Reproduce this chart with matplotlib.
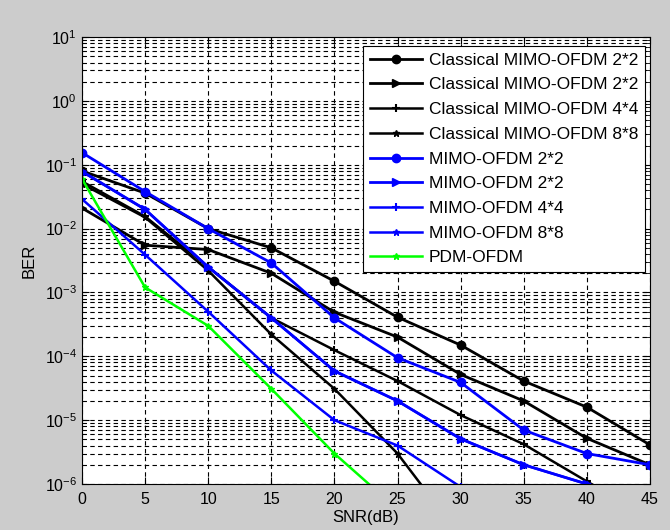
import numpy as np
import matplotlib
matplotlib.use("Agg")
import matplotlib.pyplot as plt
from matplotlib.ticker import LogLocator, NullFormatter

plt.rcParams['font.family'] = ['Liberation Sans', 'DejaVu Sans']
plt.rcParams['mathtext.fontset'] = 'custom'
plt.rcParams['mathtext.rm'] = 'Liberation Sans'

snr = [0, 5, 10, 15, 20, 25, 30, 35, 40, 45]

classical_2x2_a = [0.08, 0.036, 0.01, 5e-3, 1.5e-3, 4.1e-4, 1.5e-4, 4.1e-5, 1.6e-5, 4.1e-6]
classical_2x2_b = [0.021, 5.5e-3, 4.7e-3, 2e-3, 4.9e-4, 2e-4, 5.2e-5, 2e-5, 5.2e-6, 2e-6]
classical_4x4 = [0.055, 0.0155, 2.5e-3, 4e-4, 1.25e-4, 4.1e-5, 1.2e-5, 4.2e-6, 1.1e-6, 3e-7]
classical_8x8 = [0.05, 0.015, 2.2e-3, 2.2e-4, 3.1e-5, 3e-6, 1.5e-7]
mimo_2x2_a = [0.155, 0.038, 0.01, 2.9e-3, 4e-4, 9.5e-5, 3.9e-5, 7e-6, 3e-6, 2e-6]
mimo_2x2_b = [0.079, 0.02, 2.5e-3, 4e-4, 5.9e-5, 2e-5, 5.1e-6, 2e-6, 1e-6, 4e-7]
mimo_4x4 = [0.029, 3.9e-3, 5e-4, 6e-5, 1e-5, 4e-6, 9e-7]
mimo_8x8 = [0.078, 0.02, 2.5e-3, 4e-4, 5.9e-5, 2e-5, 5.1e-6, 2e-6, 1e-6, 4e-7]
pdm_ofdm = [0.06, 1.2e-3, 3e-4, 3.1e-5, 3e-6, 4e-7]

labels = ["Classical MIMO-OFDM 2*2", "Classical MIMO-OFDM 2*2",
          "Classical MIMO-OFDM 4*4", "Classical MIMO-OFDM 8*8",
          "MIMO-OFDM 2*2", "MIMO-OFDM 2*2", "MIMO-OFDM 4*4",
          "MIMO-OFDM 8*8", "PDM-OFDM"]

fig = plt.figure(figsize=(6.7, 5.3), dpi=100, facecolor='#cccccc')
ax = fig.add_axes([0.1224, 0.0868, 0.8476, 0.8432])
ax.set_facecolor('white')

series = [
    (classical_2x2_a, 'black', 'o', 6, 2.0, 1.0),
    (classical_2x2_b, 'black', '>', 6, 2.0, 1.0),
    (classical_4x4, 'black', '+', 6, 1.8, 1.5),
    (classical_8x8, 'black', '*', 5, 1.8, 1.0),
    (mimo_2x2_a, 'blue', 'o', 6, 2.0, 1.0),
    (mimo_2x2_b, 'blue', '>', 6, 2.0, 1.0),
    (mimo_4x4, 'blue', '+', 6, 1.8, 1.5),
    (mimo_8x8, 'blue', '*', 5, 1.8, 1.0),
    (pdm_ofdm, '#00ff00', '*', 5, 1.8, 1.0),
]

order = [0, 1, 2, 3, 4, 6, 7, 5, 8]
handles = {}
for i in order:
    vals, c, m, ms, lw, mew = series[i]
    h, = ax.plot(snr[:len(vals)], vals, color=c, marker=m, ms=ms, lw=lw,
                 mec=c, mfc=c, mew=mew, label=labels[i])
    handles[i] = h

ax.set_yscale('log')
ax.set_xlim(0, 45)
ax.set_ylim(1e-6, 10)
ax.set_xticks(snr)
ax.yaxis.set_major_locator(LogLocator(base=10, numticks=20))
ax.yaxis.set_minor_locator(LogLocator(base=10, subs=np.arange(2, 10), numticks=50))
ax.yaxis.set_minor_formatter(NullFormatter())

ax.grid(True, which='major', axis='both', color='black', linestyle=(0, (4, 3)), linewidth=0.8)
ax.grid(True, which='minor', axis='y', color='black', linestyle=(0, (4, 3)), linewidth=0.8)
ax.tick_params(which='both', direction='in', top=True, right=True, labelsize=11.5)
ax.tick_params(which='major', length=5)
ax.tick_params(axis='x', which='major', pad=6)
ax.tick_params(which='minor', length=3)
for s in ax.spines.values():
    s.set_color('black')
    s.set_linewidth(0.8)

ax.set_xlabel('SNR(dB)', fontsize=12, labelpad=2)
ax.set_ylabel('BER', fontsize=12, labelpad=6)

leg = ax.legend([handles[i] for i in range(9)], labels,
                loc='upper right', bbox_to_anchor=(0.991, 0.980),
                fontsize=12.5, frameon=True, fancybox=False,
                edgecolor='black', framealpha=1, handlelength=3.0,
                handletextpad=0.4, labelspacing=0.55, borderpad=0.38,
                borderaxespad=0.0)
leg.get_frame().set_linewidth(0.8)

fig.savefig('out.png', dpi=100, facecolor=fig.get_facecolor())
